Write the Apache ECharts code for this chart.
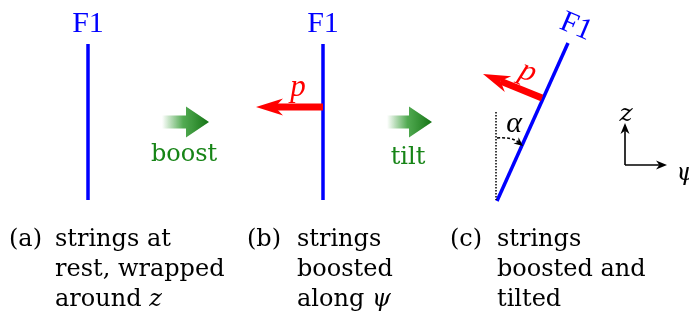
<!DOCTYPE html>
<html>
<head>
<meta charset="utf-8">
<style>
  html, body { margin: 0; padding: 0; background: #fff; }
  #chart { width: 689px; height: 314px; }
</style>
<script src="https://cdn.jsdelivr.net/npm/echarts@6/dist/echarts.min.js"></script>
</head>
<body>
<div id="chart"></div>
<script>
// diagram coordinates (x right, y down), one unit per pixel of the reference
var strings = [[88, 44, 88, 200], [323, 44, 323, 200], [497, 201, 568, 43]]
var stringNames = ['F1', 'F1', 'F1']
var stringLabelPos = [[88, 24, 0], [323, 24, 0], [576, 27, -23]]
var momenta = [[323, 107, 256, 107], [542, 98, 483, 74]]
var momentumLabelPos = [[298, 88, 0], [528, 72, -22]]
var steps = [[162, 209, 122], [387, 432, 122]]
var stepNames = ['boost', 'tilt']
var stepLabelPos = [[184, 155], [408, 158]]
var vertical = [[496, 112, 496, 200]]
var angleArc = [[497, 138, 512, 137, 523, 146]]
var angleLabelPos = [[514, 124]]
var axisOrigin = [[625, 165]]
var axisTips = [[625, 123], [667, 165]]
var axisNames = ['z', 'ψ']
var axisLabelPos = [[626, 114], [686, 173]]
var captionTags = ['(a)', '(b)', '(c)']
var captionTagX = [9, 247, 450]
var captionTextX = [55, 297, 497]
var captionLineY = [240, 270, 300]
var captionLines = [
  ['strings at', 'rest, wrapped', 'around {i|z}'],
  ['strings', 'boosted', 'along {i|ψ}'],
  ['strings', 'boosted and', 'tilted']
]

var BLUE = '#0000ff'
var RED = '#ff0000'
var GREEN = '#168416'

function arrowHead(tip, from, len, half, notch) {
  var dx = tip[0] - from[0], dy = tip[1] - from[1]
  var l = Math.sqrt(dx * dx + dy * dy)
  var ux = dx / l, uy = dy / l
  var nx = -uy, ny = ux
  var bx = tip[0] - ux * len, by = tip[1] - uy * len
  return [
    tip,
    [bx + nx * half, by + ny * half],
    [tip[0] - ux * len * notch, tip[1] - uy * len * notch],
    [bx - nx * half, by - ny * half]
  ]
}

function textEl(x, y, text, font, color, rot, align) {
  return {
    type: 'text',
    x: x,
    y: y,
    rotation: (rot || 0) * Math.PI / 180,
    style: {
      text: text,
      font: font,
      fill: color,
      align: align || 'center',
      verticalAlign: 'middle'
    }
  }
}

var chart = echarts.init(document.getElementById('chart'))

var series = []

// strings
series.push({
  type: 'custom',
  data: strings,
  renderItem: function (params, api) {
    var a = api.coord([api.value(0), api.value(1)])
    var b = api.coord([api.value(2), api.value(3)])
    return {
      type: 'line',
      shape: { x1: a[0], y1: a[1], x2: b[0], y2: b[1] },
      style: { stroke: BLUE, lineWidth: 3.5 }
    }
  }
})
series.push({
  type: 'custom',
  data: stringLabelPos,
  renderItem: function (params, api) {
    var p = api.coord([api.value(0), api.value(1)])
    return textEl(p[0], p[1], stringNames[params.dataIndex], '30px "Liberation Serif"', BLUE, api.value(2))
  }
})

// momentum arrows
series.push({
  type: 'custom',
  data: momenta,
  renderItem: function (params, api) {
    var a = api.coord([api.value(0), api.value(1)])
    var b = api.coord([api.value(2), api.value(3)])
    var head = arrowHead(b, a, 27, 8.5, 0.7)
    return {
      type: 'group',
      children: [
        { type: 'line', shape: { x1: a[0], y1: a[1], x2: head[2][0], y2: head[2][1] }, style: { stroke: RED, lineWidth: 7 } },
        { type: 'polygon', shape: { points: head }, style: { fill: RED } }
      ]
    }
  }
})
series.push({
  type: 'custom',
  data: momentumLabelPos,
  renderItem: function (params, api) {
    var p = api.coord([api.value(0), api.value(1)])
    return textEl(p[0], p[1], 'p', 'italic 31px "Liberation Serif"', RED, api.value(2))
  }
})

// boost / tilt arrows
series.push({
  type: 'custom',
  data: steps,
  renderItem: function (params, api) {
    var l = api.coord([api.value(0), api.value(2)])
    var r = api.coord([api.value(1), api.value(2)])
    var hx = r[0] - 23, y = l[1]
    return {
      type: 'polygon',
      shape: {
        points: [[l[0], y - 6.5], [hx, y - 6.5], [hx, y - 15.5], [r[0], y],
          [hx, y + 15.5], [hx, y + 6.5], [l[0], y + 6.5]]
      },
      style: {
        fill: {
          type: 'linear', x: 0, y: 0, x2: 1, y2: 0,
          colorStops: [
            { offset: 0, color: 'rgba(40,150,40,0)' },
            { offset: 0.45, color: 'rgba(40,150,40,0.8)' },
            { offset: 1, color: '#147314' }
          ]
        }
      }
    }
  }
})
series.push({
  type: 'custom',
  data: stepLabelPos,
  renderItem: function (params, api) {
    var p = api.coord([api.value(0), api.value(1)])
    return textEl(p[0], p[1], stepNames[params.dataIndex], '24px "DejaVu Serif"', GREEN)
  }
})

// tilt angle
series.push({
  type: 'custom',
  data: vertical,
  renderItem: function (params, api) {
    var a = api.coord([api.value(0), api.value(1)])
    var b = api.coord([api.value(2), api.value(3)])
    return {
      type: 'line',
      shape: { x1: a[0], y1: a[1], x2: b[0], y2: b[1] },
      style: { stroke: '#000', lineWidth: 1.5, lineDash: [1.5, 1.5] }
    }
  }
})
series.push({
  type: 'custom',
  data: angleArc,
  renderItem: function (params, api) {
    var a = api.coord([api.value(0), api.value(1)])
    var c = api.coord([api.value(2), api.value(3)])
    var b = api.coord([api.value(4), api.value(5)])
    var head = arrowHead(b, c, 9, 4, 0.7)
    return {
      type: 'group',
      children: [
        { type: 'bezierCurve', shape: { x1: a[0], y1: a[1], x2: head[2][0], y2: head[2][1], cpx1: c[0], cpy1: c[1] }, style: { stroke: '#000', fill: null, lineWidth: 1.5, lineDash: [3, 2] } },
        { type: 'polygon', shape: { points: head }, style: { fill: '#000' } }
      ]
    }
  }
})
series.push({
  type: 'custom',
  data: angleLabelPos,
  renderItem: function (params, api) {
    var p = api.coord([api.value(0), api.value(1)])
    return textEl(p[0], p[1], 'α', 'italic 30px "Liberation Serif"', '#000')
  }
})

// coordinate axes
series.push({
  type: 'custom',
  data: axisTips,
  renderItem: function (params, api) {
    var o = api.coord(axisOrigin[0])
    var t = api.coord([api.value(0), api.value(1)])
    var head = arrowHead(t, o, 11, 4.5, 0.7)
    return {
      type: 'group',
      children: [
        { type: 'line', shape: { x1: o[0], y1: o[1], x2: head[2][0], y2: head[2][1] }, style: { stroke: '#000', lineWidth: 1.6 } },
        { type: 'polygon', shape: { points: head }, style: { fill: '#000' } }
      ]
    }
  }
})
series.push({
  type: 'custom',
  data: axisLabelPos,
  renderItem: function (params, api) {
    var p = api.coord([api.value(0), api.value(1)])
    return textEl(p[0], p[1], axisNames[params.dataIndex], 'italic 25px "DejaVu Serif"', '#000')
  }
})

// captions
series.push({
  type: 'custom',
  data: captionTagX.map(function (x) { return [x, captionLineY[0]] }),
  renderItem: function (params, api) {
    var p = api.coord([api.value(0), api.value(1)])
    return textEl(p[0], p[1], captionTags[params.dataIndex], '24px "DejaVu Serif"', '#000', 0, 'left')
  }
})
captionLines.forEach(function (lines, k) {
  series.push({
    type: 'custom',
    data: lines.map(function (s, j) { return [captionTextX[k], captionLineY[j]] }),
    renderItem: function (params, api) {
      var p = api.coord([api.value(0), api.value(1)])
      var el = textEl(p[0], p[1], lines[params.dataIndex], '24px "DejaVu Serif"', '#000', 0, 'left')
      el.style.rich = { i: { font: 'italic 24px "DejaVu Serif"', fill: '#000' } }
      return el
    }
  })
})

chart.setOption({
  animation: false,
  grid: { left: 0, right: 0, top: 0, bottom: 0 },
  xAxis: { type: 'value', min: 0, max: 689, show: false },
  yAxis: { type: 'value', min: 0, max: 314, inverse: true, show: false },
  series: series
})
</script>
</body>
</html>
